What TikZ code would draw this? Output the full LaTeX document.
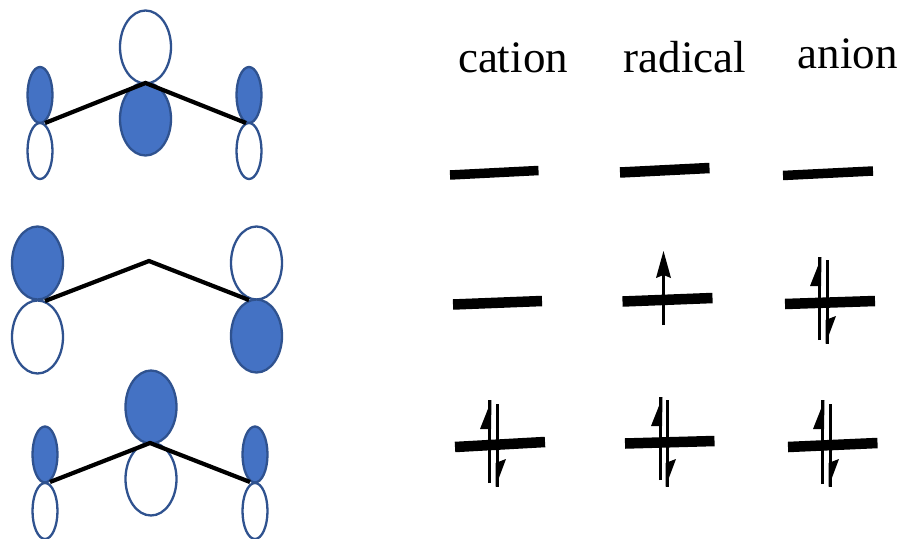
\documentclass[tikz,border=0pt]{standalone}
\usepackage{fontspec}
\setmainfont{Liberation Serif}
\usetikzlibrary{shapes.geometric,calc}
\definecolor{lobeblue}{HTML}{4472C4}
\definecolor{lobeedge}{HTML}{2F528F}
\tikzset{
  lobe/.style={ellipse,draw=lobeedge,line width=2.3pt,inner sep=0pt},
  biglobe/.style={lobe,minimum width=51pt,minimum height=73pt},
  smalllobe/.style={lobe,minimum width=25pt,minimum height=56pt},
  filledlobe/.style={fill=lobeblue},
  emptylobe/.style={fill=white},
  bond/.style={line width=4.2pt,black},
  levelbar/.style={line width=10.5pt,black},
  thinbar/.style={line width=9.5pt,black},
  spinline/.style={line width=3pt,black},
  heading/.style={font=\fontsize{45}{45}\selectfont,anchor=base,inner sep=0pt}
}
% #1 name, #2 left end, #3 right end, #4 style
\newcommand{\levelmark}[4]{%
  \coordinate (#1a) at (#2); \coordinate (#1b) at (#3);
  \draw[#4] (#1a) -- (#1b);}
% #1 name, #2 x, #3 top y, #4 bottom y : spin up with half head on the left
\newcommand{\spinup}[4]{%
  \coordinate (#1a) at (#2,#4); \coordinate (#1b) at (#2,#3);
  \draw[spinline] (#1a) -- (#1b);
  \fill[black] ($(#1b)+(2.5,0)$) -- ($(#1b)+(-9,29)$) -- ($(#1b)+(2,29)$) -- cycle;}
% #1 name, #2 x, #3 top y, #4 bottom y : spin down with half head on the right
\newcommand{\spindown}[4]{%
  \coordinate (#1a) at (#2,#3); \coordinate (#1b) at (#2,#4);
  \draw[spinline] (#1a) -- (#1b);
  \fill[black] ($(#1b)+(-1.5,0)$) -- ($(#1b)+(9,-28)$) -- ($(#1b)+(-1.5,-24)$) -- cycle;}
% #1 name, #2 x, #3 top y, #4 bottom y : full arrow
\newcommand{\spinfull}[4]{%
  \coordinate (#1a) at (#2,#4); \coordinate (#1b) at (#2,#3);
  \draw[line width=3.6pt,black] (#1a) -- ($(#1b)+(0,20)$);
  \fill[black] ($(#1b)+(0,0)$) -- ($(#1b)+(7.5,27)$) -- ($(#1b)+(0,24)$) -- ($(#1b)+(-7.5,27)$) -- cycle;}
\begin{document}
\begin{tikzpicture}[x=1pt,y=-1pt]
\path[use as bounding box] (0,0) rectangle (902,538);
% top orbital
\node[biglobe,emptylobe] (ta) at (145.5,47) {};
\node[biglobe,filledlobe] (tb) at (145.5,119) {};
\node[smalllobe,filledlobe] (tc) at (40,95) {};
\node[smalllobe,emptylobe] (td) at (40,151) {};
\node[smalllobe,filledlobe] (te) at (249,95) {};
\node[smalllobe,emptylobe] (tf) at (249,151) {};
\coordinate (tl) at (45,123); \coordinate (tm) at (145.5,83); \coordinate (tr) at (246,123);
\draw[bond] (tl) -- (tm) -- (tr);
% middle orbital
\node[biglobe,filledlobe] (ma) at (37.5,263) {};
\node[biglobe,emptylobe] (mb) at (37.5,337) {};
\node[biglobe,emptylobe] (mc) at (256.5,263) {};
\node[biglobe,filledlobe] (md) at (256.5,336) {};
\coordinate (ml) at (45,301); \coordinate (mm) at (149,261); \coordinate (mr) at (249,300);
\draw[bond] (ml) -- (mm) -- (mr);
% bottom orbital
\node[biglobe,filledlobe] (ba) at (151,407) {};
\node[biglobe,emptylobe] (bb) at (151,479) {};
\node[smalllobe,filledlobe] (bc) at (45,454.5) {};
\node[smalllobe,emptylobe] (bd) at (45,511) {};
\node[smalllobe,filledlobe] (be) at (255,454.5) {};
\node[smalllobe,emptylobe] (bf) at (255,511) {};
\coordinate (bl) at (50,482); \coordinate (bm) at (150,443); \coordinate (br) at (250,482);
\draw[bond] (bl) -- (bm) -- (br);
% headings
\node[heading] (hc) at (513,72) {cation};
\node[heading] (hr) at (685,72) {radical};
\node[heading] (hn) at (847.5,68) {anion};
% level row 1
\levelmark{la}{450,175}{538.5,170.5}{thinbar}
\levelmark{lb}{620,172.5}{709.5,168}{levelbar}
\levelmark{lc}{783,175.5}{873,171}{thinbar}
% level row 2
\levelmark{ld}{453,304.5}{542,301}{levelbar}
\levelmark{le}{622.5,301.5}{712.5,298}{levelbar}
\levelmark{lf}{785,304}{875,301}{levelbar}
\spinfull{sa}{663.5}{251}{325}
\spinup{sb}{819}{257}{340}
\spindown{sc}{827}{260}{344}
% level row 3
\levelmark{lg}{455,447}{545,442}{levelbar}
\levelmark{lh}{625,443.5}{714.5,441}{levelbar}
\levelmark{li}{788,447}{877.5,443}{levelbar}
\spinup{sd}{489}{400}{483}
\spindown{se}{497}{404}{487}
\spinup{sf}{660}{397}{480}
\spindown{sg}{667}{400}{487}
\spinup{sh}{822}{400}{484}
\spindown{si}{830}{404}{487}
\end{tikzpicture}
\end{document}
